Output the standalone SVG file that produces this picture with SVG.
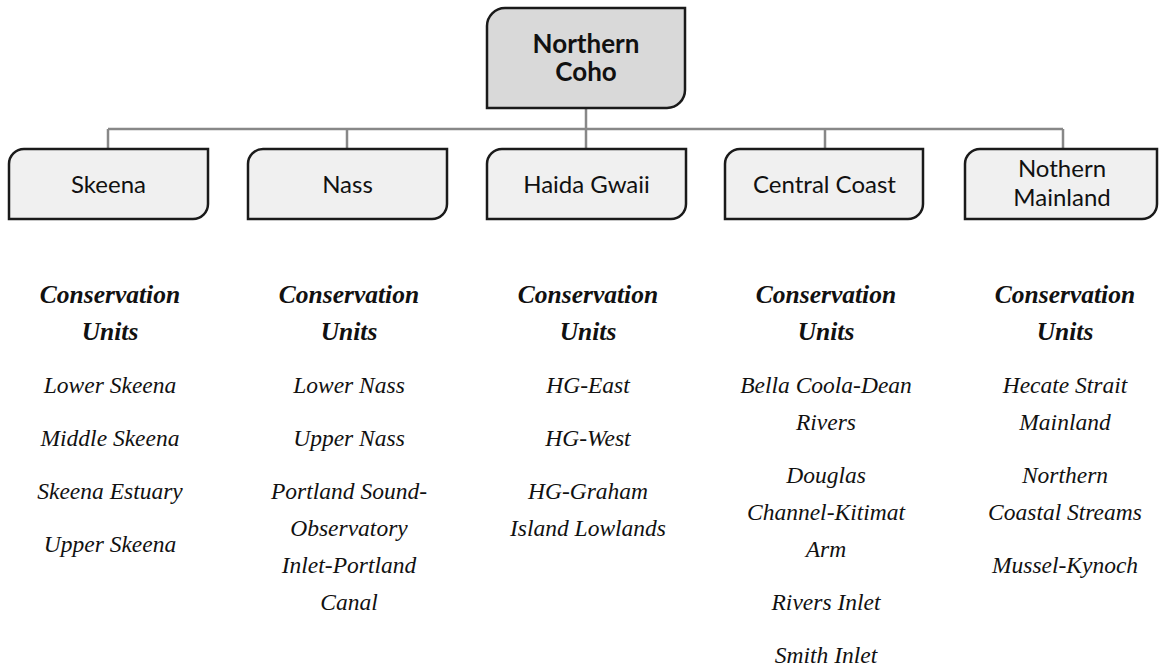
<svg xmlns="http://www.w3.org/2000/svg" width="1159" height="667" viewBox="0 0 1159 667">
<style>
.box{stroke:#1a1a1a;stroke-width:2.5;}
.root{fill:#d9d9d9;}
.child{fill:#f0f0f0;}
.lbl{font-family:Lato,"Open Sans",sans-serif;font-size:24px;fill:#111;text-anchor:middle;}
.rootlbl{font-family:Lato,"Open Sans",sans-serif;font-size:26px;font-weight:bold;fill:#111;text-anchor:middle;}
.hd{font-family:"Liberation Serif",serif;font-size:25.5px;font-style:italic;font-weight:bold;fill:#111;text-anchor:middle;}
.it{font-family:"Liberation Serif",serif;font-size:23.5px;font-style:italic;fill:#111;text-anchor:middle;}
.conn{stroke:#888;stroke-width:2.5;fill:none;}
</style>
<rect width="1159" height="667" fill="#fff"/>
<g id="connectors">
<path class="conn" d="M586 108 V129 M108 129 H1063 M108 129 V149 M347 129 V149 M586 129 V149 M825 129 V149 M1063 129 V149"/>
</g>
<g id="northern-coho">
<path class="box root" d="M505 8 H685 V90 A18 18 0 0 1 667 108 H487 V26 A18 18 0 0 1 505 8 Z"/>
<text class="rootlbl" x="586" y="53">Northern</text>
<text class="rootlbl" x="586" y="81">Coho</text>
</g>
<g id="skeena">
<path class="box child" d="M24 149 H208 V204 A15 15 0 0 1 193 219 H9 V164 A15 15 0 0 1 24 149 Z"/>
<text class="lbl" x="108.5" y="193">Skeena</text>
</g>
<g id="nass">
<path class="box child" d="M263 149 H447 V204 A15 15 0 0 1 432 219 H248 V164 A15 15 0 0 1 263 149 Z"/>
<text class="lbl" x="347.5" y="193">Nass</text>
</g>
<g id="haida-gwaii">
<path class="box child" d="M502 149 H686 V204 A15 15 0 0 1 671 219 H487 V164 A15 15 0 0 1 502 149 Z"/>
<text class="lbl" x="586.5" y="193">Haida Gwaii</text>
</g>
<g id="central-coast">
<path class="box child" d="M740 149 H923 V204 A15 15 0 0 1 908 219 H725 V164 A15 15 0 0 1 740 149 Z"/>
<text class="lbl" x="824.5" y="193">Central Coast</text>
</g>
<g id="nothern-mainland">
<path class="box child" d="M980 149 H1157 V204 A15 15 0 0 1 1142 219 H965 V164 A15 15 0 0 1 980 149 Z"/>
<text class="lbl" x="1062" y="177">Nothern</text>
<text class="lbl" x="1062" y="206">Mainland</text>
</g>
<g id="cu-skeena">
<text class="hd" x="110" y="303">Conservation</text>
<text class="hd" x="110" y="340">Units</text>
<text class="it" x="110" y="393">Lower Skeena</text>
<text class="it" x="110" y="446">Middle Skeena</text>
<text class="it" x="110" y="499">Skeena Estuary</text>
<text class="it" x="110" y="552">Upper Skeena</text>
</g>
<g id="cu-nass">
<text class="hd" x="349" y="303">Conservation</text>
<text class="hd" x="349" y="340">Units</text>
<text class="it" x="349" y="393">Lower Nass</text>
<text class="it" x="349" y="446">Upper Nass</text>
<text class="it" x="349" y="499">Portland Sound-</text>
<text class="it" x="349" y="536">Observatory</text>
<text class="it" x="349" y="573">Inlet-Portland</text>
<text class="it" x="349" y="610">Canal</text>
</g>
<g id="cu-haida-gwaii">
<text class="hd" x="588" y="303">Conservation</text>
<text class="hd" x="588" y="340">Units</text>
<text class="it" x="588" y="393">HG-East</text>
<text class="it" x="588" y="446">HG-West</text>
<text class="it" x="588" y="499">HG-Graham</text>
<text class="it" x="588" y="536">Island Lowlands</text>
</g>
<g id="cu-central-coast">
<text class="hd" x="826" y="303">Conservation</text>
<text class="hd" x="826" y="340">Units</text>
<text class="it" x="826" y="393">Bella Coola-Dean</text>
<text class="it" x="826" y="430">Rivers</text>
<text class="it" x="826" y="483">Douglas</text>
<text class="it" x="826" y="520">Channel-Kitimat</text>
<text class="it" x="826" y="557">Arm</text>
<text class="it" x="826" y="610">Rivers Inlet</text>
<text class="it" x="826" y="663">Smith Inlet</text>
</g>
<g id="cu-northern-mainland">
<text class="hd" x="1065" y="303">Conservation</text>
<text class="hd" x="1065" y="340">Units</text>
<text class="it" x="1065" y="393">Hecate Strait</text>
<text class="it" x="1065" y="430">Mainland</text>
<text class="it" x="1065" y="483">Northern</text>
<text class="it" x="1065" y="520">Coastal Streams</text>
<text class="it" x="1065" y="573">Mussel-Kynoch</text>
</g>
</svg>
